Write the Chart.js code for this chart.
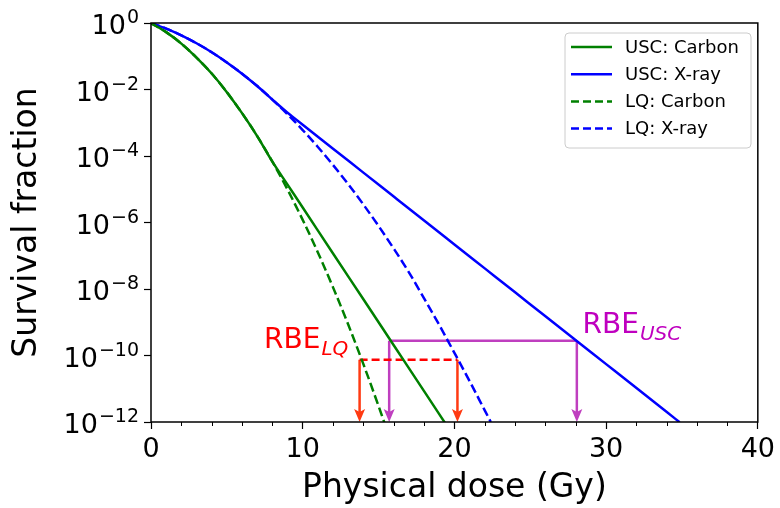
<!DOCTYPE html>
<html>
<head>
<meta charset="utf-8">
<script src="https://cdn.jsdelivr.net/npm/chart.js@4.4.1/dist/chart.umd.min.js"></script>
<style>
  html, body { margin: 0; padding: 0; background: #fff; }
  #wrap { width: 780px; height: 508px; }
</style>
</head>
<body>
<div id="wrap"><canvas id="myChart" width="780" height="508"></canvas></div>
<script>
// Valeurs (dose en Gy, fraction de survie)
const doseCarbonUSC = [0, 1, 2, 3, 4, 5, 6, 7, 8, 9, 10, 12, 14, 16, 18, 19.4];
const survCarbonUSC = [1, 0.531, 0.240, 0.0912, 0.0302, 8.32e-3, 1.95e-3, 3.98e-4, 6.76e-5,
  1.38e-5, 2.82e-6, 1.17e-7, 4.9e-9, 2.04e-10, 8.5e-12, 9.1e-13];

const doseXrayUSC = [0, 1, 2, 3, 4, 5, 6, 7, 8, 9, 10, 12, 14, 16, 18, 20, 22, 24, 26, 28, 30, 32, 34, 34.85];
const survXrayUSC = [1, 0.678, 0.425, 0.246, 0.132, 0.0653, 0.0299, 0.01268, 4.97e-3, 2.0e-3,
  8.7e-4, 1.66e-4, 3.16e-5, 6.03e-6, 1.15e-6, 2.19e-7, 4.17e-8, 7.94e-9, 1.51e-9, 2.88e-10,
  5.5e-11, 1.05e-11, 2.0e-12, 9.8e-13];

const doseCarbonLQ = [0, 1, 2, 3, 4, 5, 6, 7, 8, 9, 10, 11, 12, 13, 14, 15, 15.4];
const survCarbonLQ = [1, 0.531, 0.240, 0.0912, 0.0302, 8.32e-3, 1.95e-3, 3.98e-4, 6.76e-5,
  9.77e-6, 1.20e-6, 1.26e-7, 1.12e-8, 8.51e-10, 5.5e-11, 3.02e-12, 9.1e-13];

const doseXrayLQ = [0, 1, 2, 3, 4, 5, 6, 7, 8, 9, 10, 11, 12, 13, 14, 15, 16, 17, 18, 19, 20, 21, 22, 22.4];
const survXrayLQ = [1, 0.678, 0.425, 0.246, 0.132, 0.0653, 0.0299, 0.01268, 4.97e-3, 1.80e-3,
  6.03e-4, 1.87e-4, 5.35e-5, 1.42e-5, 3.47e-6, 7.85e-7, 1.64e-7, 3.18e-8, 5.25e-9, 8.3e-10,
  1.2e-10, 1.7e-11, 2.24e-12, 1.0e-12];

// RBE : niveau de survie et doses correspondantes
const rbeLqLevel = 7.48e-11;
const rbeLqDoses = [13.75, 20.2];
const rbeUscLevel = 2.79e-10;
const rbeUscDoses = [15.7, 28.07];
const survivalFloor = 1e-12;

// Axes
const xTicks = [0, 10, 20, 30, 40];
const xMinorTicks = [2, 4, 6, 8, 12, 14, 16, 18, 22, 24, 26, 28, 32, 34, 36, 38];
const yTicks = [1e-12, 1e-10, 1e-8, 1e-6, 1e-4, 1e-2, 1];

const seriesLabels = ["USC: Carbon", "USC: X-ray", "LQ: Carbon", "LQ: X-ray"];

const GREEN = "#008000";
const BLUE = "#0000ff";
const RED = "#ff0000";
const RED_ARROW = "#ff3a12";
const MAGENTA = "#bf00bf";
const MAGENTA_LINE = "#bf3fbf";
const FONT = "DejaVu Sans";

const toPoints = (xs, ys) => xs.map((x, i) => ({ x: x, y: ys[i] }));

const curve = (label, data, color, dashed) => ({
  label: label,
  data: data,
  borderColor: color,
  backgroundColor: color,
  borderWidth: 2.5,
  borderDash: dashed ? [9, 4] : [],
  pointRadius: 0,
  cubicInterpolationMode: "monotone",
  fill: false,
});

const segment = (data, color, dashed) => ({
  label: "",
  data: data,
  borderColor: color,
  borderWidth: 2.5,
  borderDash: dashed ? [8, 4] : [],
  pointRadius: 0,
  tension: 0,
  fill: false,
});

const datasets = [
  curve(seriesLabels[0], toPoints(doseCarbonUSC, survCarbonUSC), GREEN, false),
  curve(seriesLabels[1], toPoints(doseXrayUSC, survXrayUSC), BLUE, false),
  curve(seriesLabels[2], toPoints(doseCarbonLQ, survCarbonLQ), GREEN, true),
  curve(seriesLabels[3], toPoints(doseXrayLQ, survXrayLQ), BLUE, true),
  // lignes RBE
  segment(rbeLqDoses.map(d => ({ x: d, y: rbeLqLevel })), RED, true),
  segment(rbeUscDoses.map(d => ({ x: d, y: rbeUscLevel })), MAGENTA_LINE, false),
];
rbeLqDoses.forEach(d => datasets.push(segment([{ x: d, y: rbeLqLevel }, { x: d, y: survivalFloor * 1.35 }], RED_ARROW, false)));
rbeUscDoses.forEach(d => datasets.push(segment([{ x: d, y: rbeUscLevel }, { x: d, y: survivalFloor * 1.35 }], MAGENTA_LINE, false)));

// Plugin : pointes de flèche, textes RBE, ticks mineurs, labels de l'axe y, cadre et légende
const decorations = {
  id: "decorations",
  afterDatasetsDraw(chart) {
    const { ctx, scales: { x, y } } = chart;
    const tipY = y.getPixelForValue(survivalFloor);
    const head = (dose, color) => {
      const px = x.getPixelForValue(dose);
      ctx.save();
      ctx.fillStyle = color;
      ctx.beginPath();
      ctx.moveTo(px, tipY);
      ctx.lineTo(px - 5.5, tipY - 13);
      ctx.lineTo(px, tipY - 10);
      ctx.lineTo(px + 5.5, tipY - 13);
      ctx.closePath();
      ctx.fill();
      ctx.restore();
    };
    rbeLqDoses.forEach(d => head(d, RED_ARROW));
    rbeUscDoses.forEach(d => head(d, MAGENTA_LINE));

    const rbeText = (dose, level, sub, color) => {
      const px = x.getPixelForValue(dose);
      const py = y.getPixelForValue(level);
      ctx.save();
      ctx.fillStyle = color;
      ctx.textBaseline = "alphabetic";
      ctx.textAlign = "left";
      ctx.font = "28px '" + FONT + "'";
      ctx.fillText("RBE", px, py);
      const w = ctx.measureText("RBE").width;
      ctx.font = "italic 20px '" + FONT + "'";
      ctx.fillText(sub, px + w + 1, py + 7);
      ctx.restore();
    };
    rbeText(7.45, 1.7e-10, "LQ", RED);
    rbeText(28.45, 4.8e-10, "USC", MAGENTA);
  },
  afterDraw(chart) {
    const { ctx, chartArea: a, scales: { x, y } } = chart;
    ctx.save();
    // ticks mineurs
    ctx.strokeStyle = "#000";
    ctx.lineWidth = 1;
    xMinorTicks.forEach(v => {
      const px = Math.round(x.getPixelForValue(v)) + 0.5;
      ctx.beginPath();
      ctx.moveTo(px, a.bottom);
      ctx.lineTo(px, a.bottom + 4);
      ctx.stroke();
    });

    // labels de l'axe y : 10 puis exposant
    ctx.fillStyle = "#000";
    ctx.textBaseline = "alphabetic";
    ctx.textAlign = "left";
    yTicks.forEach(v => {
      const py = y.getPixelForValue(v);
      const exp = String(Math.round(Math.log10(v))).replace("-", "\u2212");
      ctx.font = "27px '" + FONT + "'";
      const wBase = ctx.measureText("10").width;
      ctx.font = "19px '" + FONT + "'";
      const wExp = ctx.measureText(exp).width;
      const start = 139 - wBase - wExp - 1;
      ctx.font = "27px '" + FONT + "'";
      ctx.fillText("10", start, py + 11);
      ctx.font = "19px '" + FONT + "'";
      ctx.fillText(exp, start + wBase + 1, py);
    });

    // cadre
    ctx.lineWidth = 1.5;
    ctx.strokeRect(a.left, a.top, a.right - a.left, a.bottom - a.top);

    // légende
    const lx = 565, ly = 33, lw = 186, lh = 115, r = 4;
    ctx.fillStyle = "rgba(255,255,255,0.85)";
    ctx.strokeStyle = "#cccccc";
    ctx.lineWidth = 1;
    ctx.beginPath();
    ctx.moveTo(lx + r, ly);
    ctx.arcTo(lx + lw, ly, lx + lw, ly + lh, r);
    ctx.arcTo(lx + lw, ly + lh, lx, ly + lh, r);
    ctx.arcTo(lx, ly + lh, lx, ly, r);
    ctx.arcTo(lx, ly, lx + lw, ly, r);
    ctx.closePath();
    ctx.fill();
    ctx.stroke();
    chart.data.datasets.slice(0, 4).forEach((ds, i) => {
      const rowY = 47 + i * 27.2;
      ctx.strokeStyle = ds.borderColor;
      ctx.lineWidth = 2.5;
      ctx.setLineDash(ds.borderDash.length ? [8, 4] : []);
      ctx.beginPath();
      ctx.moveTo(571, rowY);
      ctx.lineTo(612, rowY);
      ctx.stroke();
      ctx.setLineDash([]);
      ctx.fillStyle = "#000";
      ctx.font = "18px '" + FONT + "'";
      ctx.textBaseline = "middle";
      ctx.fillText(ds.label, 625, rowY + 1);
    });
    ctx.restore();
  },
};

const chart = new Chart(document.getElementById("myChart").getContext("2d"), {
  type: "line",
  data: { datasets: datasets },
  options: {
    responsive: false,
    animation: false,
    devicePixelRatio: 1,
    layout: { padding: { top: 23, right: 20, bottom: 0, left: 0 } },
    plugins: { legend: { display: false }, tooltip: { enabled: false } },
    scales: {
      x: {
        type: "linear",
        min: 0,
        max: 40,
        afterFit: (s) => { s.height = 86; },
        afterBuildTicks: (s) => { s.ticks = xTicks.map(v => ({ value: v })); },
        ticks: { color: "#000", font: { family: FONT, size: 27 }, padding: 5, maxRotation: 0 },
        grid: { drawOnChartArea: false, tickLength: 7, tickColor: "#000", tickWidth: 1.2 },
        border: { display: false },
        title: { display: true, text: "Physical dose (Gy)", color: "#000",
          font: { family: FONT, size: 33 }, padding: { top: 0, bottom: 0 } },
      },
      y: {
        type: "logarithmic",
        min: 1e-12,
        max: 1,
        afterFit: (s) => { s.width = 151; },
        afterBuildTicks: (s) => { s.ticks = yTicks.map(v => ({ value: v })); },
        ticks: { display: false },
        grid: { drawOnChartArea: false, tickLength: 7, tickColor: "#000", tickWidth: 1.2 },
        border: { display: false },
        title: { display: true, text: "Survival fraction", color: "#000",
          font: { family: FONT, size: 33 }, padding: { top: 8, bottom: 0 } },
      },
    },
  },
  plugins: [decorations],
});
</script>
</body>
</html>
